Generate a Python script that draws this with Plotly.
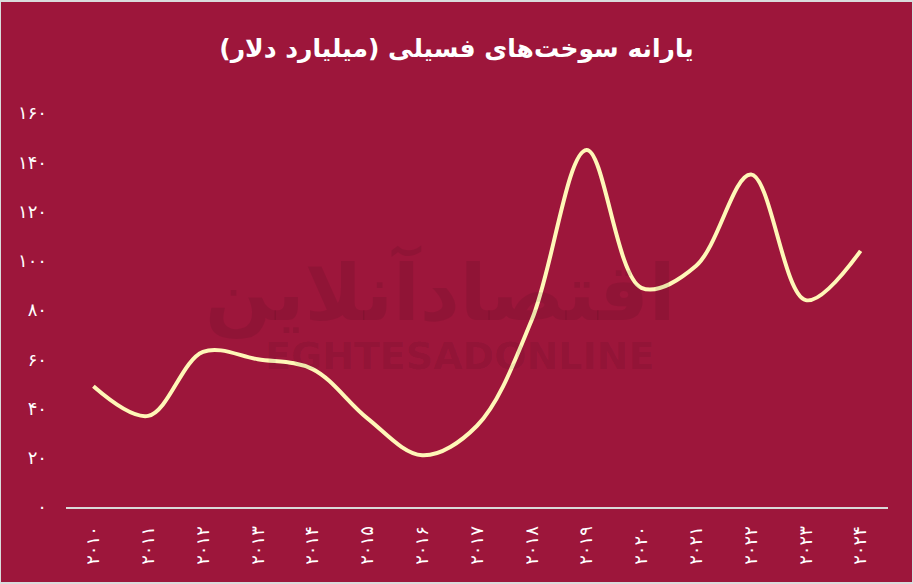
import plotly.graph_objects as go

years = ["۲۰۱۰", "۲۰۱۱", "۲۰۱۲", "۲۰۱۳", "۲۰۱۴", "۲۰۱۵", "۲۰۱۶", "۲۰۱۷",
         "۲۰۱۸", "۲۰۱۹", "۲۰۲۰", "۲۰۲۱", "۲۰۲۲", "۲۰۲۳", "۲۰۲۴"]
subsidy = [49, 37, 63, 60, 56, 36, 21, 33, 76, 145, 89, 98, 135, 84, 104]
y_tickvals = [0, 20, 40, 60, 80, 100, 120, 140, 160]
y_ticktext = ["۰", "۲۰", "۴۰", "۶۰", "۸۰", "۱۰۰", "۱۲۰", "۱۴۰", "۱۶۰"]
title_text = "یارانه سوخت‌های فسیلی (میلیارد دلار)"

BG = "#9D163B"
W, H = 911, 580
ML, MR, MT, MB = 65, 24, 111, 75
x_idx = list(range(len(years)))

fig = go.Figure()
fig.add_trace(go.Scatter(
    x=x_idx, y=subsidy, mode="lines",
    line=dict(color="#FFF7B8", width=4, shape="spline", smoothing=1.0),
    hoverinfo="skip", showlegend=False,
))

pw, ph = W - ML - MR, H - MT - MB


def px_to_paper(xp, yp):
    return (xp - 1 - ML) / pw, (H - MB - (yp - 2)) / ph


lx, ly = px_to_paper(440, 292)
ex, ey = px_to_paper(459, 356)
# watermark
fig.add_annotation(text="<b>اقتصادآنلاین</b>", x=lx, y=ly, xref="paper", yref="paper",
                   showarrow=False,
                   font=dict(family="DejaVu Sans", size=78, color="rgba(0,0,0,0.08)"))
fig.add_annotation(text="<b>EGHTESADONLINE</b>", x=ex, y=ey, xref="paper", yref="paper",
                   showarrow=False,
                   font=dict(family="DejaVu Sans", size=38, color="rgba(0,0,0,0.08)"))

fig.update_layout(
    width=W, height=H,
    paper_bgcolor=BG, plot_bgcolor=BG,
    margin=dict(l=ML, r=MR, t=MT, b=MB),
    title=dict(text="<b>" + title_text + "</b>", x=0.5, xanchor="center",
               y=1 - 46 / H, yanchor="middle",
               font=dict(family="DejaVu Sans", size=25, color="white")),
    xaxis=dict(
        range=[-0.5, len(years) - 0.5],
        tickvals=x_idx, ticktext=years, tickangle=-90,
        showgrid=False, zeroline=False,
        showline=True, linecolor="#D9D9D9", linewidth=2,
        ticks="", ticklabelstandoff=10,
        tickfont=dict(family="DejaVu Sans", size=18, color="white"),
        fixedrange=True,
    ),
    yaxis=dict(
        range=[0, 160],
        tickvals=y_tickvals, ticktext=y_ticktext,
        showgrid=False, zeroline=False, showline=False,
        ticks="", ticklabelstandoff=18,
        tickfont=dict(family="DejaVu Sans", size=18, color="white"),
        fixedrange=True,
    ),
)

post = ("document.body.style.margin='0';"
        "document.body.style.padding='2px 0 0 1px';"
        "document.body.style.background='#D9DCDC';"
        "document.body.style.overflow='hidden';")
fig.write_html("out.html", post_script=post, config={"displayModeBar": False})
